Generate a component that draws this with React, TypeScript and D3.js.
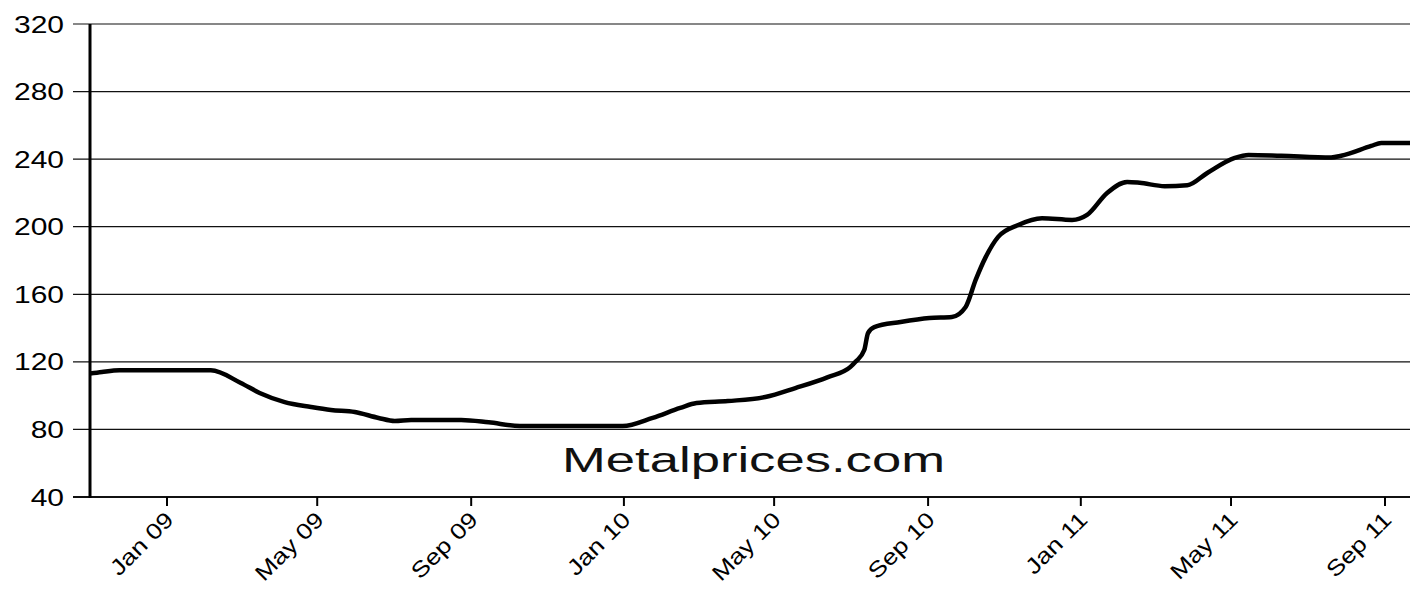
import * as d3 from "d3";

// price readings (date, value)
const priceDates = [
  "2008-10-31", "2008-11-10", "2008-11-24", "2009-01-01", "2009-02-05",
  "2009-03-01", "2009-03-16", "2009-04-05", "2009-04-26", "2009-05-12",
  "2009-05-31", "2009-06-19", "2009-07-02", "2009-07-15", "2009-08-24",
  "2009-09-15", "2009-10-10", "2009-12-31", "2010-01-24", "2010-02-15",
  "2010-02-28", "2010-03-25", "2010-04-24", "2010-05-18", "2010-06-13",
  "2010-07-01", "2010-07-05", "2010-07-12", "2010-07-15", "2010-07-20",
  "2010-08-10", "2010-09-02", "2010-09-20", "2010-10-01", "2010-10-09",
  "2010-10-17", "2010-10-27", "2010-11-12", "2010-12-01", "2010-12-25",
  "2011-01-06", "2011-01-22", "2011-02-07", "2011-02-17", "2011-03-09",
  "2011-03-27", "2011-04-12", "2011-05-04", "2011-05-15", "2011-06-10",
  "2011-07-20", "2011-07-28", "2011-08-21", "2011-08-29", "2011-09-21",
];
const priceValues = [
  113, 114, 115, 115, 115,
  107.5, 101.6, 96.2, 93.3, 91.5,
  90.3, 86.8, 85, 85.6, 85.6,
  84.2, 82, 82, 86.8, 92.7,
  95.6, 96.8, 99.2, 104.5, 111,
  117, 120, 127, 137, 140.6,
  143.6, 146, 146.6, 152.5, 168.5,
  182, 194, 201, 205, 204,
  207, 220, 226.5, 226, 224,
  224.5, 231.8, 240.7, 242.5, 242,
  241, 242, 247.8, 249.6, 249.6,
];

const yTicks = [40, 80, 120, 160, 200, 240, 280, 320];
const xTickDates = [
  "2009-01-01", "2009-05-01", "2009-09-01", "2010-01-01", "2010-05-01",
  "2010-09-01", "2011-01-01", "2011-05-01", "2011-09-01",
];
const xTickLabels = [
  "Jan 09", "May 09", "Sep 09", "Jan 10", "May 10",
  "Sep 10", "Jan 11", "May 11", "Sep 11",
];
const watermark = "Metalprices.com";

const W = 1410;
const H = 590;
const left = 90;
const right = 1410;
const top = 24;
const bottom = 497;

export default function App() {
  const parse = d3.timeParse("%Y-%m-%d");

  const x = d3
    .scaleTime()
    .domain([parse("2009-01-01"), parse("2011-09-01")])
    .range([167, 1385]);
  const y = d3.scaleLinear().domain([40, 320]).range([bottom, top]);

  const data = priceDates.map((d, i) => ({ date: parse(d), value: priceValues[i] }));

  const line = d3
    .line()
    .x((d) => x(d.date))
    .y((d) => y(d.value))
    .curve(d3.curveMonotoneX);

  const font = "'Liberation Sans', Arial, sans-serif";

  return (
    <svg
      width={W}
      height={H}
      style={{ position: "absolute", left: 0, top: 0, background: "#fff" }}
      fontFamily={font}
    >
      <defs>
        <clipPath id="plot">
          <rect x={left} y={0} width={right - left} height={bottom} />
        </clipPath>
      </defs>

      {yTicks.map((t) => (
        <g key={t}>
          <line
            x1={73}
            x2={right}
            y1={y(t)}
            y2={y(t)}
            stroke="#111"
            strokeWidth={t === 40 ? 2 : 1.2}
          />
          <text
            transform={`translate(64,${y(t) + 8.5}) scale(1.25,1)`}
            textAnchor="end"
            fontSize={24}
            fill="#000"
          >
            {t}
          </text>
        </g>
      ))}

      <line x1={left} x2={left} y1={top} y2={bottom + 1} stroke="#000" strokeWidth={3} />

      {xTickDates.map((d, i) => {
        const tx = x(parse(d));
        return (
          <g key={d}>
            <line x1={tx} x2={tx} y1={bottom} y2={506} stroke="#000" strokeWidth={2} />
            <text
              transform={`translate(${tx + 8},521) rotate(-45) scale(1.2,1)`}
              textAnchor="end"
              fontSize={22}
              fill="#000"
            >
              {xTickLabels[i]}
            </text>
          </g>
        );
      })}

      <text
        x={562}
        y={472}
        fontSize={35}
        textLength={383}
        lengthAdjust="spacingAndGlyphs"
        fill="#111"
      >
        {watermark}
      </text>

      <path
        d={line(data)}
        fill="none"
        stroke="#000"
        strokeWidth={4.5}
        strokeLinejoin="round"
        clipPath="url(#plot)"
      />
    </svg>
  );
}
